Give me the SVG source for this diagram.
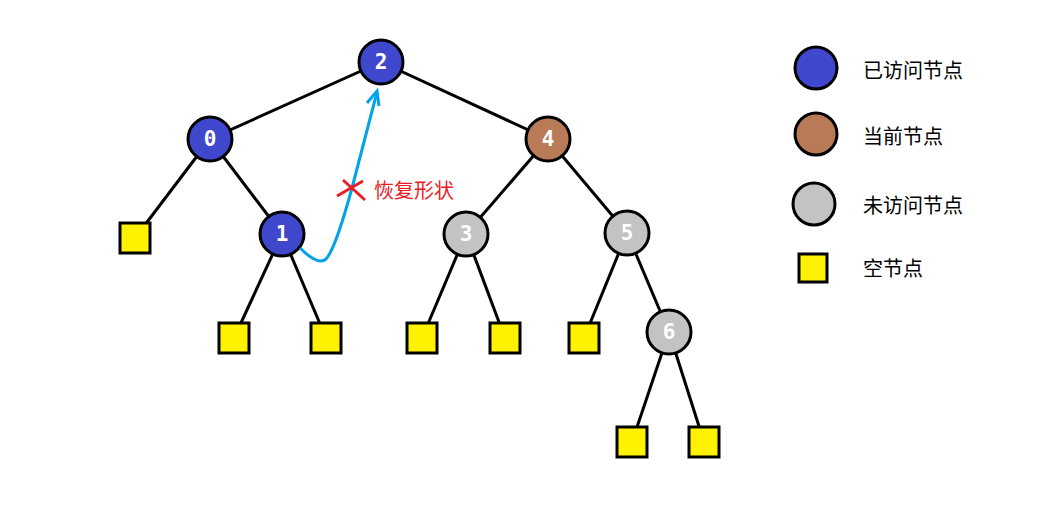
<svg xmlns="http://www.w3.org/2000/svg" width="1059" height="517" viewBox="0 0 1059 517">
<defs>
<style>
.n{stroke:#000;stroke-width:3}
.v{fill:#3F48CC}.c{fill:#B97A57}.u{fill:#C3C3C3}.e{fill:#FFF200;stroke:#000;stroke-width:3}
.d{font-family:"DejaVu Sans Mono",monospace;font-weight:bold;font-size:21px;fill:#fff;text-anchor:middle}
.l{font-family:"Noto Sans CJK SC",sans-serif;font-size:20px;fill:#000}
.edge{stroke:#000;stroke-width:3;fill:none}
</style>
</defs>
<rect width="1059" height="517" fill="#fff"/>
<g id="connectors">
<line class="edge" x1="381" y1="62" x2="210" y2="139"/>
<line class="edge" x1="381" y1="62" x2="548" y2="139"/>
<line class="edge" x1="210" y1="139" x2="135" y2="238"/>
<line class="edge" x1="210" y1="139" x2="282" y2="234"/>
<line class="edge" x1="282" y1="234" x2="234" y2="338"/>
<line class="edge" x1="282" y1="234" x2="326" y2="338"/>
<line class="edge" x1="548" y1="139" x2="466" y2="234"/>
<line class="edge" x1="548" y1="139" x2="627" y2="233"/>
<line class="edge" x1="466" y1="234" x2="422" y2="338"/>
<line class="edge" x1="466" y1="234" x2="505" y2="338"/>
<line class="edge" x1="627" y1="233" x2="584" y2="338"/>
<line class="edge" x1="627" y1="233" x2="669" y2="332"/>
<line class="edge" x1="669" y1="332" x2="632" y2="442"/>
<line class="edge" x1="669" y1="332" x2="704" y2="442"/>
</g>
<g id="null-nodes">
<rect class="e" x="120" y="223" width="30" height="30"/>
<rect class="e" x="219" y="323" width="30" height="30"/>
<rect class="e" x="311" y="323" width="30" height="30"/>
<rect class="e" x="407" y="323" width="30" height="30"/>
<rect class="e" x="490" y="323" width="30" height="30"/>
<rect class="e" x="569" y="323" width="30" height="30"/>
<rect class="e" x="617" y="427" width="30" height="30"/>
<rect class="e" x="689" y="427" width="30" height="30"/>
</g>
<g id="node-2"><circle class="n v" cx="381" cy="62" r="22"/><text class="d" x="381" y="69">2</text></g>
<g id="node-0"><circle class="n v" cx="210" cy="139" r="22"/><text class="d" x="210" y="146">0</text></g>
<g id="node-4"><circle class="n c" cx="548" cy="139" r="22"/><text class="d" x="548" y="146">4</text></g>
<g id="node-1"><circle class="n v" cx="282" cy="234" r="22"/><text class="d" x="282" y="241">1</text></g>
<g id="node-3"><circle class="n u" cx="466" cy="234" r="22"/><text class="d" x="466" y="241">3</text></g>
<g id="node-5"><circle class="n u" cx="627" cy="233" r="22"/><text class="d" x="627" y="240">5</text></g>
<g id="node-6"><circle class="n u" cx="669" cy="332" r="22"/><text class="d" x="669" y="339">6</text></g>
<g id="annotation">
<path d="M300 248 Q318 266 326 259 Q335 250 352 188 L377 92" fill="none" stroke="#00A2E8" stroke-width="3"/>
<polyline points="367,103 377,91 379,106" fill="none" stroke="#00A2E8" stroke-width="3"/>
<line x1="337" y1="196" x2="363" y2="181" stroke="#ED1C24" stroke-width="3"/>
<line x1="343" y1="180" x2="365" y2="200" stroke="#ED1C24" stroke-width="3"/>
<text x="374" y="198" font-family="'Noto Sans CJK SC',sans-serif" font-size="20" fill="#ED1C24">恢复形状</text>
</g>
<g id="legend">
<circle class="n v" cx="816" cy="68" r="21"/>
<text class="l" x="863" y="78">已访问节点</text>
<circle class="n c" cx="816" cy="134" r="21"/>
<text class="l" x="863" y="144">当前节点</text>
<circle class="n u" cx="814" cy="204" r="21"/>
<text class="l" x="863" y="213">未访问节点</text>
<rect class="e" x="799" y="254" width="28" height="28"/>
<text class="l" x="863" y="276">空节点</text>
</g>
</svg>
